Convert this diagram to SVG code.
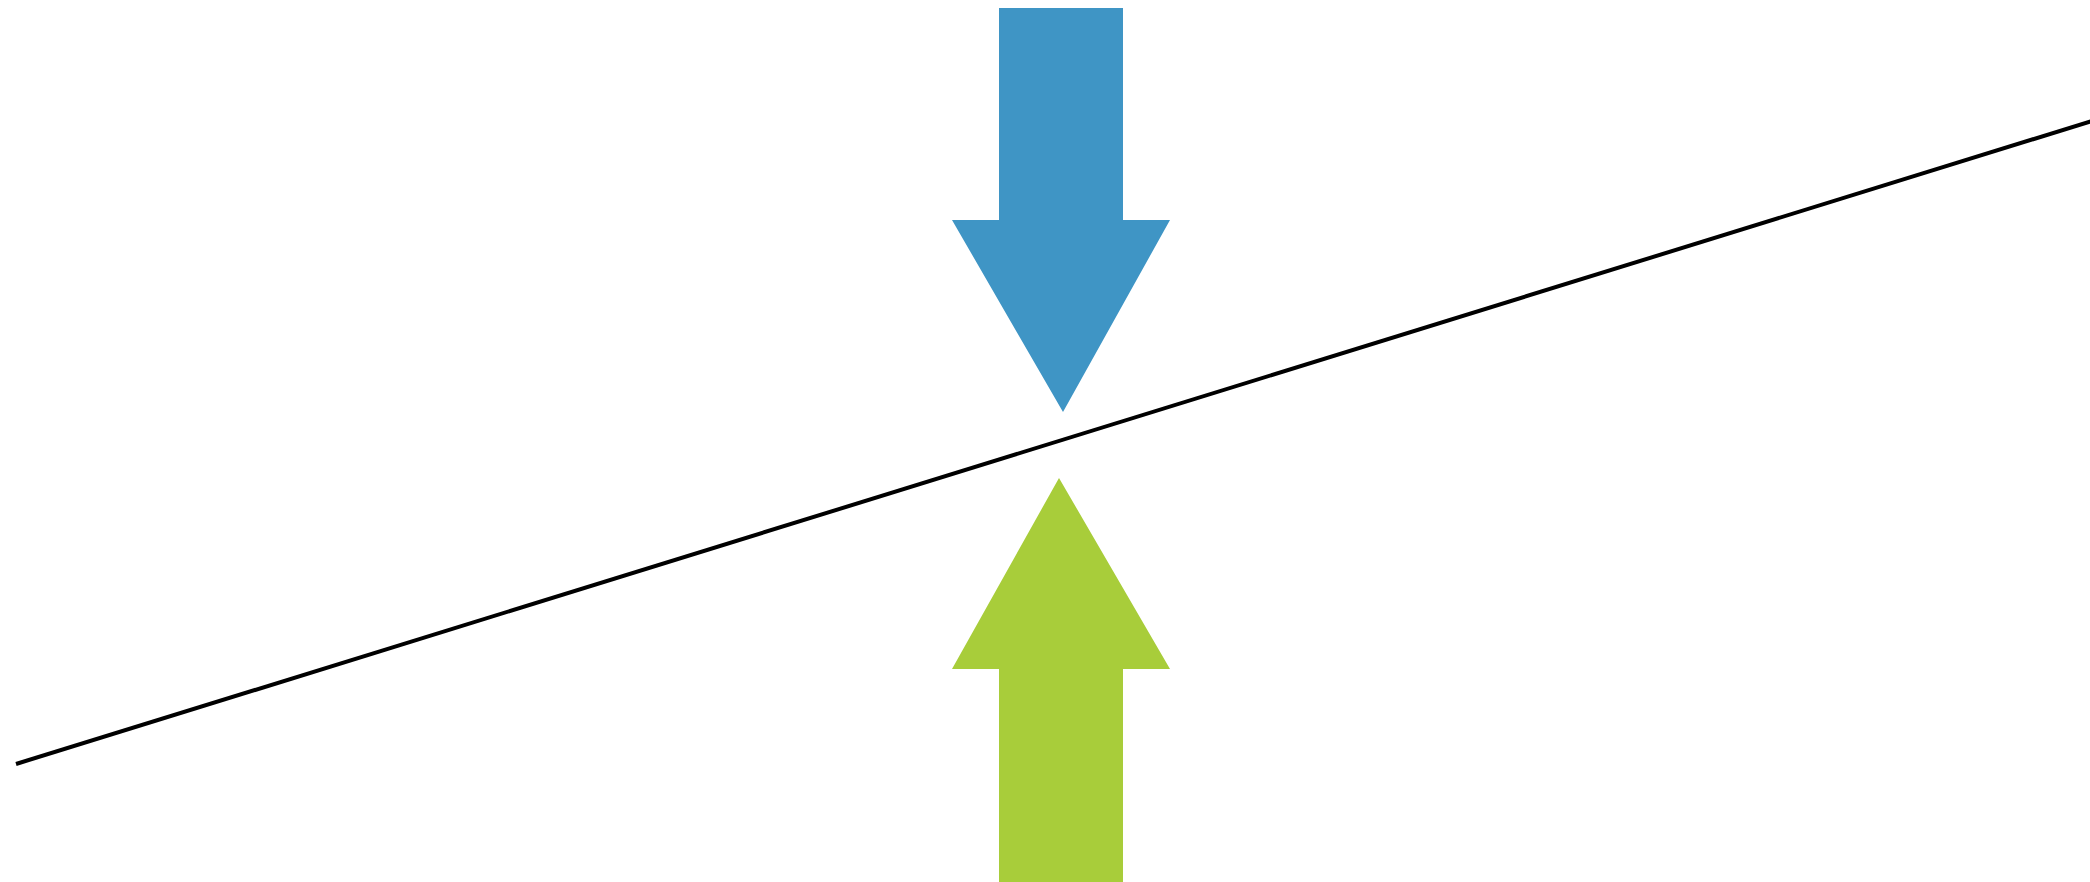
<svg xmlns="http://www.w3.org/2000/svg" width="2090" height="882" viewBox="0 0 2090 882">
<style>
.blue{fill:#3f95c5}
.green{fill:#a8cd3a}
.ln{stroke:#000;stroke-width:4;fill:none}
</style>
<rect width="2090" height="882" fill="#fff"/>
<g id="line"><line class="ln" x1="16" y1="764" x2="2092" y2="121"/></g>
<g id="arrow-down"><polygon class="blue" points="999,8 1123,8 1123,220 1170,220 1063,412 952,220 999,220"/></g>
<g id="arrow-up"><polygon class="green" points="999,882 1123,882 1123,669 1170,669 1059,478 952,669 999,669"/></g>
</svg>
